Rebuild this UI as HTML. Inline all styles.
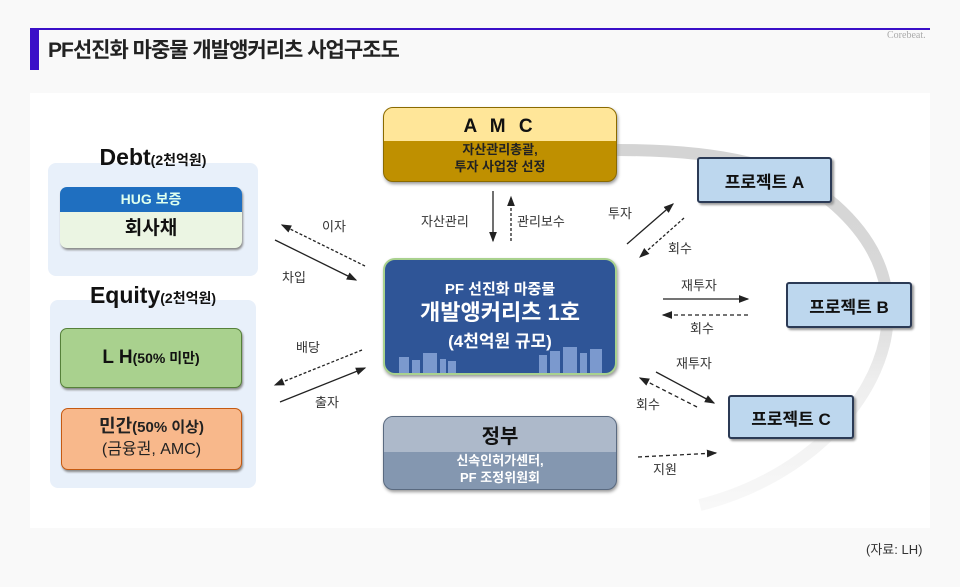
<!DOCTYPE html>
<html><head><meta charset="utf-8"><style>
body{margin:0;width:960px;height:587px;background:#f9f9f9;position:relative;overflow:hidden;font-family:"Liberation Sans","Noto Sans CJK KR",sans-serif;}
.a{position:absolute;box-sizing:border-box;}
.t{position:absolute;white-space:nowrap;}
.c{text-align:center;}
.pr{position:absolute;box-sizing:border-box;background:#bdd7ee;border:2px solid #2b3a55;border-radius:3px;font-weight:bold;font-size:17px;color:#111;display:flex;align-items:center;justify-content:center;box-shadow:2px 2px 2px #999;}
</style></head><body>
<div class="a" style="left:30px;top:28px;width:900px;height:2px;background:#3a10c8"></div>
<div class="a" style="left:30px;top:29px;width:9px;height:41px;background:#3a10c8"></div>
<div class="t" style="left:48px;top:34px;font-size:21px;font-weight:bold;color:#222;letter-spacing:-1px">PF선진화 마중물 개발앵커리츠 사업구조도</div>
<div class="t" style="left:887px;top:30px;font-size:10px;color:#aaa;font-family:'Liberation Serif',serif">Corebeat.</div>
<div class="a" style="left:30px;top:93px;width:900px;height:435px;background:#fff"></div>
<div class="t" style="left:866px;top:539px;font-size:13px;color:#333">(자료: LH)</div>

<svg class="a" style="left:0;top:0" width="960" height="587">
<defs><marker id="m" markerWidth="8" markerHeight="8" refX="7" refY="4" orient="auto"><path d="M0,1 L8,4 L0,7z" fill="#222"/></marker>
<linearGradient id="g" gradientUnits="userSpaceOnUse" x1="0" y1="140" x2="0" y2="510"><stop offset="0" stop-color="#d4d4d4"/><stop offset="0.45" stop-color="#d9d9d9"/><stop offset="0.65" stop-color="#eeeeee"/><stop offset="1" stop-color="#f8f8f8"/></linearGradient></defs>
<path d="M617,150 C720,150 790,165 835,205 C880,245 895,290 885,340 C870,410 800,480 700,505" fill="none" stroke="url(#g)" stroke-width="12"/>
<g stroke="#222" stroke-width="1.3" fill="none">
<line x1="275" y1="240" x2="356" y2="280" marker-end="url(#m)"/>
<line x1="365" y1="266" x2="282" y2="225" stroke-dasharray="3,2" marker-end="url(#m)"/>
<line x1="280" y1="402" x2="365" y2="368" marker-end="url(#m)"/>
<line x1="362" y1="350" x2="275" y2="385" stroke-dasharray="3,2" marker-end="url(#m)"/>
<line x1="493" y1="191" x2="493" y2="241" marker-end="url(#m)"/>
<line x1="511" y1="241" x2="511" y2="197" stroke-dasharray="3,2" marker-end="url(#m)"/>
<line x1="627" y1="244" x2="673" y2="204" marker-end="url(#m)"/>
<line x1="684" y1="218" x2="640" y2="257" stroke-dasharray="3,2" marker-end="url(#m)"/>
<line x1="663" y1="299" x2="748" y2="299" marker-end="url(#m)"/>
<line x1="748" y1="315" x2="663" y2="315" stroke-dasharray="4,3" marker-end="url(#m)"/>
<line x1="656" y1="372" x2="714" y2="403" marker-end="url(#m)"/>
<line x1="697" y1="407" x2="640" y2="378" stroke-dasharray="4,3" marker-end="url(#m)"/>
<line x1="638" y1="457" x2="716" y2="453" stroke-dasharray="4,3" marker-end="url(#m)"/>
</g>
<g font-size="13" fill="#333" font-family="Liberation Sans,Noto Sans CJK KR,sans-serif">
<text x="322" y="231">이자</text><text x="282" y="282">차입</text>
<text x="296" y="352">배당</text><text x="315" y="407">출자</text>
<text x="421" y="226">자산관리</text><text x="517" y="226">관리보수</text>
<text x="608" y="218">투자</text><text x="668" y="253">회수</text>
<text x="681" y="290">재투자</text><text x="690" y="333">회수</text>
<text x="676" y="368">재투자</text><text x="636" y="409">회수</text>
<text x="653" y="474">지원</text>
</g>
</svg>

<div class="a" style="left:48px;top:163px;width:210px;height:113px;background:#e8f0fa;border-radius:8px"></div>
<div class="t c" style="left:48px;width:210px;top:144px;font-size:23px;font-weight:bold;color:#111">Debt<span style="font-size:14px">(2천억원)</span></div>
<div class="a" style="left:60px;top:187px;width:182px;height:61px;border-radius:7px;overflow:hidden;box-shadow:1px 2px 2px #888;background:#ebf5e3">
<div style="height:25px;background:#1f6fc0;color:#dfe;font-weight:bold;font-size:14px;text-align:center;line-height:25px">HUG 보증</div>
<div style="text-align:center;font-size:19px;font-weight:bold;line-height:34px;color:#111">회사채</div></div>
<div class="a" style="left:50px;top:300px;width:206px;height:188px;background:#e8f0fa;border-radius:8px"></div>
<div class="t c" style="left:50px;width:206px;top:282px;font-size:23px;font-weight:bold;color:#111">Equity<span style="font-size:14px">(2천억원)</span></div>
<div class="a" style="left:60px;top:328px;width:182px;height:60px;border-radius:7px;background:#a9d18e;border:1.5px solid #56813a;box-shadow:1px 2px 2px #888;text-align:center;line-height:57px;font-weight:bold;font-size:19px;color:#111">L H<span style="font-size:14px">(50% 미만)</span></div>
<div class="a" style="left:61px;top:408px;width:181px;height:62px;border-radius:7px;background:#f8b88b;border:1.5px solid #c55a11;box-shadow:1px 2px 2px #888;text-align:center;font-size:16px;color:#222;padding-top:6px;line-height:22px"><b style="font-size:18px">민간<span style="font-size:15px">(50% 이상)</span></b><br>(금융권, AMC)</div>

<div class="a" style="left:383px;top:107px;width:234px;height:75px;border-radius:10px;overflow:hidden;border:1px solid #8a6a00;box-shadow:1px 2px 3px #999;background:#bf9000">
<div style="height:33px;background:#ffe699;text-align:center;font-weight:bold;font-size:19px;line-height:38px;letter-spacing:4px;color:#111">A M C</div>
<div style="text-align:center;font-size:13px;font-weight:bold;line-height:17px;color:#222">자산관리총괄,<br>투자 사업장 선정</div></div>

<div class="a" style="left:383px;top:258px;width:234px;height:117px;border-radius:12px;background:#2f5597;border:2px solid #a9d18e;box-shadow:1px 2px 3px #999;color:#fff;text-align:center;font-weight:bold;overflow:hidden">
<div style="font-size:15px;margin-top:18px">PF 선진화 마중물</div>
<div style="font-size:22px;line-height:28px">개발앵커리츠 1호</div>
<div style="font-size:17px">(4천억원 규모)</div>
<svg style="position:absolute;left:0;bottom:0" width="234" height="30"><g fill="#8faadc" opacity=".8"><rect x="14" y="14" width="10" height="16"/><rect x="27" y="17" width="8" height="13"/><rect x="38" y="10" width="14" height="20"/><rect x="55" y="16" width="6" height="14"/><rect x="63" y="18" width="8" height="12"/><rect x="154" y="12" width="8" height="18"/><rect x="165" y="8" width="10" height="22"/><rect x="178" y="4" width="14" height="26"/><rect x="195" y="10" width="7" height="20"/><rect x="205" y="6" width="12" height="24"/></g></svg>
</div>

<div class="a" style="left:383px;top:416px;width:234px;height:74px;border-radius:10px;overflow:hidden;border:1px solid #5a6a80;box-shadow:1px 2px 3px #999;background:#8497b0">
<div style="height:35px;background:#adb9ca;text-align:center;font-weight:bold;font-size:20px;line-height:40px;color:#111">정부</div>
<div style="text-align:center;font-size:13px;font-weight:bold;line-height:17px;color:#fff">신속인허가센터,<br>PF 조정위원회</div></div>

<div class="pr" style="left:697px;top:157px;width:135px;height:46px">프로젝트 A</div>
<div class="pr" style="left:786px;top:282px;width:126px;height:46px">프로젝트 B</div>
<div class="pr" style="left:728px;top:395px;width:126px;height:44px">프로젝트 C</div>
</body></html>
